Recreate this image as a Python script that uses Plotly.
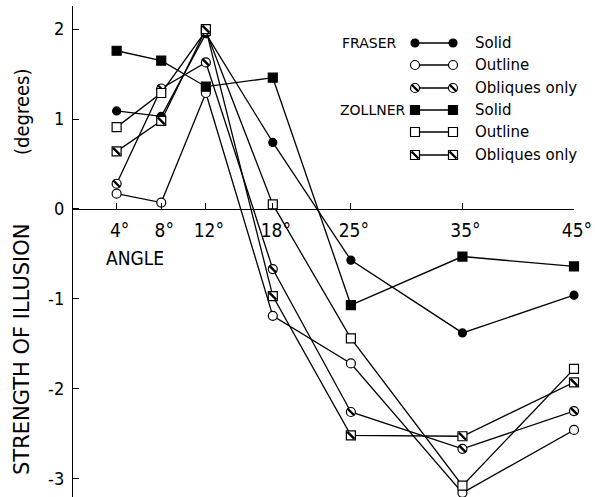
import plotly.graph_objects as go

# Angle between the oblique lines and the main line (degrees)
angles = [4, 8, 12, 18, 25, 35, 45]
angle_labels = ["4°", "8°", "12°", "18°", "25°", "35°", "45°"]

# Strength of illusion (degrees) for each figure type
fraser_solid = [1.09, 1.03, 1.95, 0.74, -0.57, -1.38, -0.96]
fraser_outline = [0.17, 0.07, 1.29, -1.19, -1.72, -3.16, -2.46]
fraser_obliques = [0.28, 1.34, 1.63, -0.67, -2.26, -2.67, -2.25]
zollner_solid = [1.76, 1.65, 1.36, 1.46, -1.07, -0.53, -0.64]
zollner_outline = [0.91, 1.29, 1.98, 0.05, -1.44, -3.08, -1.78]
zollner_obliques = [0.64, 0.98, 2.00, -0.97, -2.52, -2.53, -1.93]

legend_groups = ["FRASER", "ZOLLNER"]
legend_labels = ["Solid", "Outline", "Obliques only"]

FONT = "DejaVu Sans Condensed"
WIDE_FONT = "DejaVu Sans"
INK = "black"
LW = 1.3

W, H = 595, 497
ML, MR, MT, MB = 72, 21, 6, 0
Y_RANGE = [-3.206, 2.258]
X_RANGE = [0, 45]
zero_pos = (0 - Y_RANGE[0]) / (Y_RANGE[1] - Y_RANGE[0])

# marker styles: (symbol, fill, size, hatched)
styles = {
    "fraser_solid": ("circle", INK, 8, False),
    "fraser_outline": ("circle", "white", 9, False),
    "fraser_obliques": ("circle", "white", 9, True),
    "zollner_solid": ("square", INK, 9, False),
    "zollner_outline": ("square", "white", 9, False),
    "zollner_obliques": ("square", "white", 9, True),
}

series = [
    ("fraser_solid", fraser_solid),
    ("fraser_outline", fraser_outline),
    ("fraser_obliques", fraser_obliques),
    ("zollner_solid", zollner_solid),
    ("zollner_outline", zollner_outline),
    ("zollner_obliques", zollner_obliques),
]

fig = go.Figure()


def add_series(x, y, key, xaxis="x", yaxis="y"):
    symbol, fill, size, hatched = styles[key]
    fig.add_trace(go.Scatter(
        x=x, y=y, mode="lines+markers", xaxis=xaxis, yaxis=yaxis,
        line=dict(color=INK, width=LW),
        marker=dict(symbol=symbol, size=size, color=fill,
                    line=dict(color=INK, width=1.2)),
        cliponaxis=False, showlegend=False, hoverinfo="skip",
    ))
    if hatched:
        fig.add_trace(go.Scatter(
            x=x, y=y, mode="markers", xaxis=xaxis, yaxis=yaxis,
            marker=dict(symbol="line-nw", size=size - 2,
                        line=dict(color=INK, width=2.4)),
            cliponaxis=False, showlegend=False, hoverinfo="skip",
        ))


for key, vals in series:
    add_series(angles, vals, key)

# Key panel drawn on an overlay axis measured in screen-like units
LEG_X0, LEG_X1 = 415, 453
row_y = [43, 65, 88, 110, 132, 155]
for (key, _), ry in zip(series, row_y):
    add_series([LEG_X0, LEG_X1], [ry, ry], key, xaxis="x2", yaxis="y2")

annotations = []
for i, (key, _) in enumerate(series):
    annotations.append(dict(
        x=473, y=row_y[i], xref="x2", yref="y2", text=legend_labels[i % 3],
        showarrow=False, xanchor="left", yanchor="middle",
        font=dict(family=WIDE_FONT, size=15, color=INK)))
annotations.append(dict(x=340, y=row_y[0], xref="x2", yref="y2",
                        text=legend_groups[0], showarrow=False,
                        xanchor="left", yanchor="middle",
                        font=dict(family=WIDE_FONT, size=14, color=INK)))
annotations.append(dict(x=338, y=row_y[3], xref="x2", yref="y2",
                        text=legend_groups[1], showarrow=False,
                        xanchor="left", yanchor="middle",
                        font=dict(family=WIDE_FONT, size=14, color=INK)))

# x-axis title placed under the zero line
annotations.append(dict(x=104, y=258, xref="x2", yref="y2", text="ANGLE",
                        showarrow=False, xanchor="left", yanchor="middle",
                        font=dict(family=FONT, size=19, color=INK)))


def px_x(px):
    return (px - ML) / (W - ML - MR)


def px_y(py):
    return 1 - (py - MT) / (H - MT - MB)


# y-axis title in two pieces
annotations.append(dict(x=px_x(22), y=px_y(349), xref="paper", yref="paper",
                        text="STRENGTH OF ILLUSION", textangle=-90,
                        showarrow=False, xanchor="center", yanchor="middle",
                        font=dict(family=WIDE_FONT, size=21, color=INK)))
annotations.append(dict(x=px_x(22), y=px_y(112), xref="paper", yref="paper",
                        text="(degrees)", textangle=-90,
                        showarrow=False, xanchor="center", yanchor="middle",
                        font=dict(family=FONT, size=20, color=INK)))

fig.update_layout(
    width=W, height=H,
    margin=dict(l=ML, r=MR, t=MT, b=MB, pad=0),
    paper_bgcolor="white", plot_bgcolor="white",
    showlegend=False,
    annotations=annotations,
    xaxis=dict(
        range=X_RANGE, anchor="free", position=zero_pos, side="bottom",
        tickmode="array", tickvals=angles, ticktext=angle_labels,
        ticks="inside", ticklen=6, tickwidth=1.3, tickcolor=INK,
        showline=True, linecolor=INK, linewidth=1.3,
        showgrid=False, zeroline=False,
        tickfont=dict(family=FONT, size=19, color=INK),
        ticklabelshift=3, ticklabelstandoff=4,
    ),
    yaxis=dict(
        range=Y_RANGE, anchor="free", position=0,
        tickmode="array", tickvals=[-3, -2, -1, 0, 1, 2],
        ticktext=["-3", "-2", "-1", "0", "1", "2"],
        ticks="inside", ticklen=6, tickwidth=1.3, tickcolor=INK,
        showline=True, linecolor=INK, linewidth=1.3,
        showgrid=False, zeroline=False,
        tickfont=dict(family=FONT, size=18, color=INK),
        ticklabelstandoff=4,
    ),
    xaxis2=dict(range=[ML, W - MR], overlaying="x", visible=False,
                fixedrange=True),
    yaxis2=dict(range=[H - MB, MT], overlaying="y", visible=False,
                fixedrange=True),
)

fig.write_html("out.html")
